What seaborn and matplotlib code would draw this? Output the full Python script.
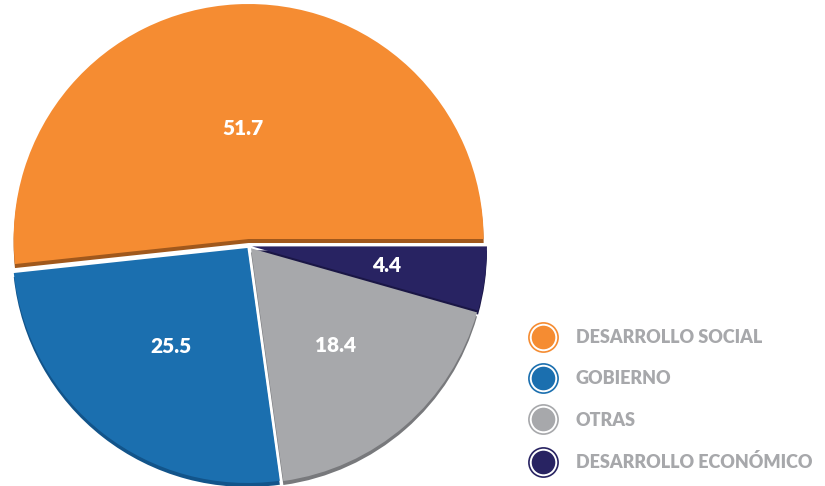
import seaborn as sns
import matplotlib.pyplot as plt
from matplotlib.lines import Line2D
from matplotlib.legend_handler import HandlerTuple
import numpy as np

categories = ['DESARROLLO SOCIAL', 'GOBIERNO', 'OTRAS', 'DESARROLLO ECONÓMICO']
values = [51.7, 25.5, 18.4, 4.4]
labels = ['51.7', '25.5', '18.4', '4.4']

colors = ['#F58C32', '#1B6FAF', '#A7A8AB', '#282362']
shade = ['#A0581C', '#12548A', '#78797C', '#1A1645']
# explode is in data units (pixels here)
explode = [7, 2.5, 3, 3]
label_dist = [0.47, 0.53, 0.55, 0.58]

sns.set_theme(style='white')
plt.rcParams['font.family'] = ['Lato', 'DejaVu Sans']

fig = plt.figure(figsize=(8.25, 4.86), dpi=100)
ax = fig.add_axes([0, 0, 1, 1])

cx, cy, r = 249, 240, 235

# 3d-ish thickness under each slice
ax.pie(values, colors=shade, explode=explode, startangle=0, counterclock=True,
       center=(cx, cy - 4), radius=r,
       wedgeprops=dict(linewidth=0))
wedges, _ = ax.pie(values, colors=colors, explode=explode, startangle=0, counterclock=True,
                   center=(cx, cy), radius=r,
                   wedgeprops=dict(linewidth=0))

for w, lab, d in zip(wedges, labels, label_dist):
    ang = np.deg2rad((w.theta1 + w.theta2) / 2)
    x0, y0 = w.center
    ax.text(x0 + d * r * np.cos(ang), y0 + d * r * np.sin(ang), lab,
            color='white', fontsize=15, fontweight='heavy',
            ha='center', va='center')

ax.set_xlim(0, 825)
ax.set_ylim(0, 486)
ax.set_aspect('equal')
ax.axis('off')

handles = []
for c in colors:
    outer = Line2D([], [], marker='o', linestyle='none', markersize=21,
                   markerfacecolor='white', markeredgecolor=c, markeredgewidth=1.2)
    inner = Line2D([], [], marker='o', linestyle='none', markersize=17,
                   markerfacecolor=c, markeredgecolor=c, markeredgewidth=0)
    handles.append((outer, inner))

leg = ax.legend(handles, categories, handler_map={tuple: HandlerTuple(ndivide=1)},
                loc='upper left', bbox_to_anchor=(529 / 825, 1 - 329 / 486),
                bbox_transform=fig.transFigure, frameon=False,
                prop=dict(family=['Lato', 'DejaVu Sans'], weight='heavy', size=13),
                labelspacing=1.35, handlelength=1.5, handletextpad=1.1,
                borderpad=0, borderaxespad=0)
for t in leg.get_texts():
    t.set_color('#A7A8AB')

fig.savefig('out.png', dpi=100)
